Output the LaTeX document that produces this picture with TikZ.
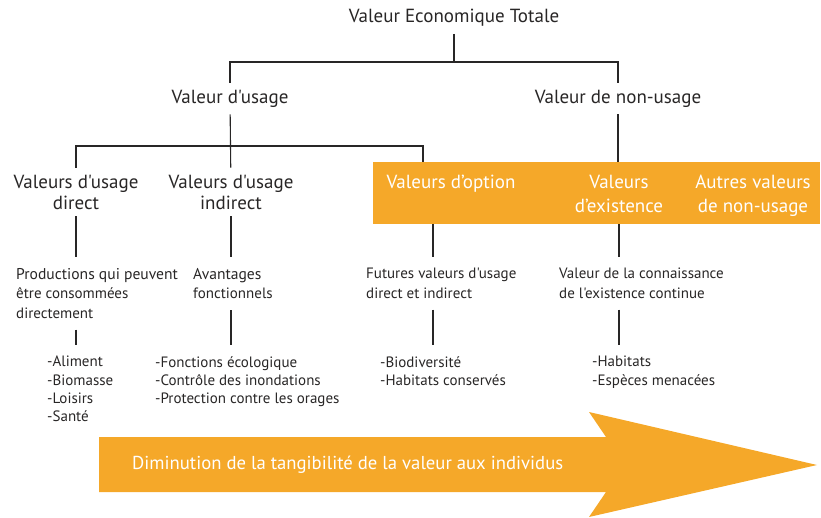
\documentclass[tikz,border=0pt]{standalone}
\usepackage{fontspec}
\setmainfont{PT Sans}[Ligatures=TeXOff]
\definecolor{bandorange}{RGB}{245,168,41}
\definecolor{inkgray}{RGB}{40,38,38}
\begin{document}
\begin{tikzpicture}[
  x=1pt, y=-1pt,
  every node/.style={text=inkgray, align=center, inner xsep=2pt, inner ysep=7pt, font=\fontsize{19}{21}\selectfont},
  inband/.style={text=white, font=\fontsize{19}{24}\selectfont},
  note/.style={anchor=north west, align=left, inner xsep=0pt, inner ysep=11pt, font=\fontsize{15}{19.5}\selectfont},
  item/.style={note, font=\fontsize{15}{18.3}\selectfont},
  band/.style={fill=bandorange, draw=none},
  link/.style={draw=inkgray, line width=1.1pt}
]
  \useasboundingbox (0,0) rectangle (821,518);
  \node (vet) at (454,18) {Valeur Economique Totale};
  \node (vu) at (230,98.5) {Valeur d'usage};
  \node (vnu) at (618,98.5) {Valeur de non-usage};
  \node[band, minimum width=447pt, minimum height=62pt, inner sep=0pt] (box) at (596.5,193) {};
  \node (vud) at (76,192) {Valeurs d'usage\\direct};
  \node (vui) at (231,192) {Valeurs d'usage\\indirect};
  \node[inband] (vo) at (451,183.6) {Valeurs d’option};
  \node[inband] (ve) at (619,193.5) {Valeurs\\d’existence};
  \node[inband] (av) at (753,195.6) {Autres valeurs\\de non-usage};
  \coordinate (t1) at (454,62);
  \coordinate (t3) at (423,146);
  \coordinate (opt) at (433,224);
  \node[note] (prod) at (16,257) {{\fontsize{15.6}{19.5}\selectfont Productions qui peuvent}\\être consommées\\directement};
  \node[note] (aven) at (193,257) {{\fontsize{15.6}{19.5}\selectfont Avantages}\\fonctionnels};
  \node[note] (fut) at (366,257) {Futures valeurs d'usage\\direct et indirect};
  \node[note] (conn) at (559,257) {Valeur de la connaissance\\de l'existence continue};
  \node[item] (alim) at (47,345) {-Aliment\\-Biomasse\\-Loisirs\\-Santé};
  \node[item] (fonc) at (155,345) {-Fonctions écologique\\-Contrôle des inondations\\-Protection contre les orages};
  \node[item] (bio) at (380,345) {-Biodiversité\\-Habitats conservés};
  \node[item] (hab) at (592,345) {-Habitats\\-Espèces menacées};
  \draw[link] (vet) -- (t1);
  \draw[link] (vu) |- (t1) -| (vnu);
  \draw[link] (vu) -- (vui);
  \draw[link] (vud) |- (t3) -- (t3 |- box.north);
  \draw[link] (vnu) -- (vnu |- box.north);
  \draw[link] (vud) -- (vud |- prod.north);
  \draw[link] (prod.south -| vud) -- (alim.north -| vud);
  \draw[link] (vui) -- (vui |- aven.north);
  \draw[link] (aven.south -| vui) -- (fonc.north -| vui);
  \draw[link] (opt) -- (fut.north -| opt);
  \draw[link] (fut.south -| opt) -- (bio.north -| opt);
  \draw[link] (box.south -| ve) -- (conn.north -| ve);
  \draw[link] (conn.south -| ve) -- (hab.north -| ve);
  \fill[band] (99,437) -- (606,437) -- (589,412) -- (817,465) -- (589,517)
    -- (606,492) -- (99,492) -- cycle;
  \node[inband, anchor=west, inner xsep=0pt, font=\fontsize{18.7}{24}\selectfont] (dim) at (132,464.6) {Diminution de la tangibilité de la valeur aux individus};
\end{tikzpicture}
\end{document}
